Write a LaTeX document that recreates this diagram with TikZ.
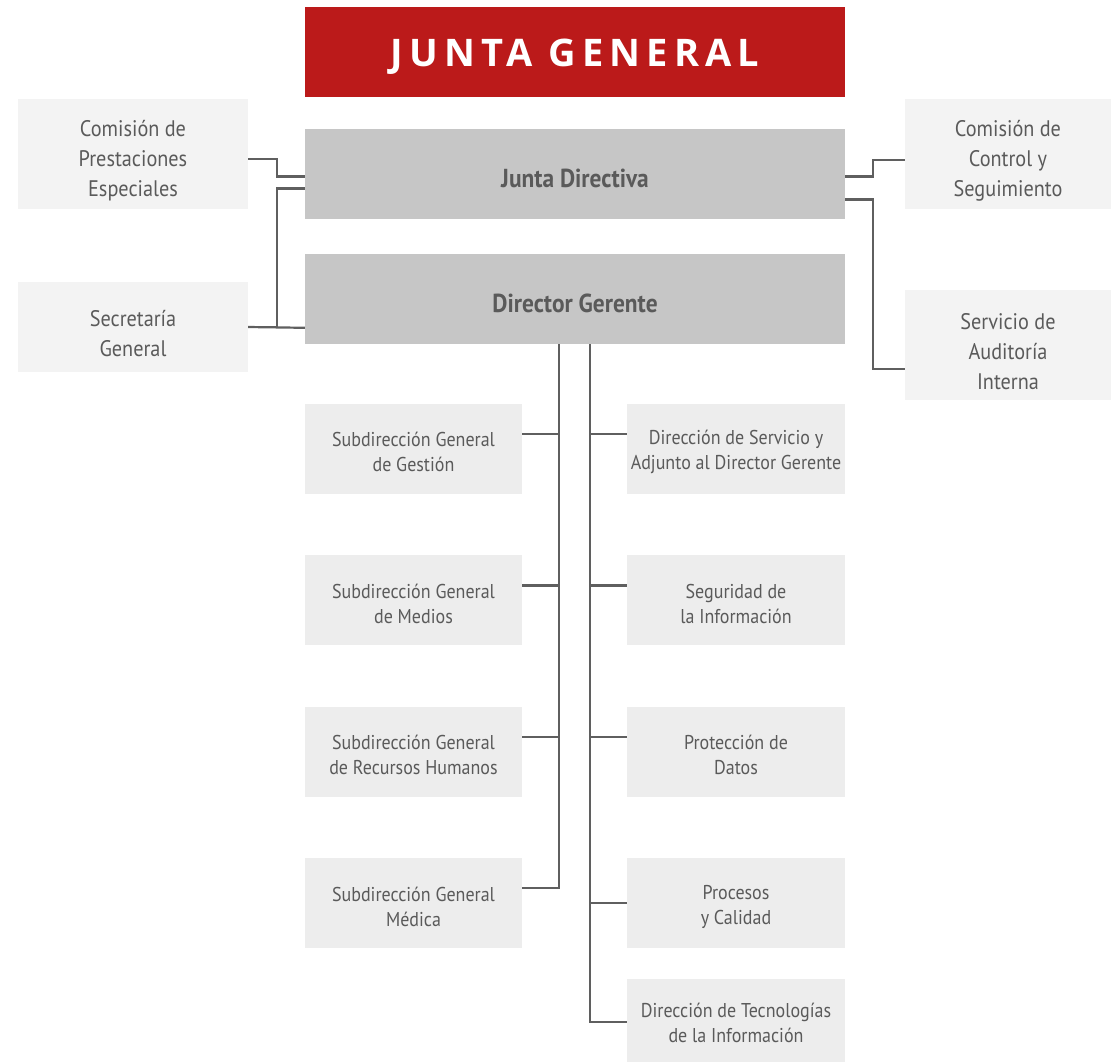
\documentclass[tikz,border=0pt]{standalone}
\usepackage{fontspec}
\setmainfont{PT Sans}[FakeStretch=0.9]
\newfontfamily\titlefont{Open Sans}[LetterSpace=16]
\usetikzlibrary{positioning}

\definecolor{jgred}{HTML}{BB1A1A}
\definecolor{maingray}{HTML}{C6C6C6}
\definecolor{sidegray}{HTML}{F3F3F3}
\definecolor{unitgray}{HTML}{EDEDED}
\definecolor{textgray}{HTML}{5A5A5A}
\definecolor{linegray}{HTML}{5F5F5F}

% struts that set the top of the first text line
\newcommand{\sidetop}{\rule{0pt}{30pt}}
\newcommand{\unittop}{\rule{0pt}{21pt}}

\begin{document}
\begin{tikzpicture}[
    x=1pt, y=-1pt,
    % Node styles
    titlebox/.style={
        rectangle, fill=jgred, inner sep=0pt,
        minimum width=540pt, minimum height=90pt,
        font=\titlefont\bfseries\fontsize{38}{40}\selectfont, text=white,
        execute at begin node={\rule{0pt}{37pt}}
    },
    mainbox/.style={
        rectangle, fill=maingray, inner sep=0pt,
        minimum width=540pt, minimum height=90pt,
        font=\bfseries\fontsize{26}{30}\selectfont, text=textgray,
        execute at begin node={\rule{0pt}{27pt}}
    },
    sidebox/.style={
        rectangle, fill=sidegray, inner sep=0pt,
        minimum height=110pt, align=center,
        font=\fontsize{22.5}{30}\selectfont, text=textgray
    },
    unitbox/.style={
        rectangle, fill=unitgray, inner sep=0pt,
        minimum height=90pt, align=center,
        font=\fontsize{20}{25}\selectfont, text=textgray
    },
    link/.style={
        draw=linegray, line width=2.2pt
    }
]
\useasboundingbox (0,0) rectangle (1111,1061);

% --- Nodes ---
\node[titlebox] (jg) at (575,52) {JUNTA GENERAL};
\node[mainbox, below=32pt of jg] (jd) {Junta Directiva};
\node[mainbox, below=34pt of jd] (dg) {Director Gerente};

% Side boxes
\node[sidebox, minimum width=230pt] (cpe) at (133,154) {\sidetop Comisión de\\Prestaciones\\Especiales};
\node[sidebox, minimum width=230pt, minimum height=90pt] (sg) at (133,327) {\sidetop Secretaría\\General};
\node[sidebox, minimum width=206pt] (ccs) at (1008,154) {\sidetop Comisión de\\Control y\\Seguimiento};
\node[sidebox, minimum width=206pt] (sai) at (1008,345) {\sidetop Servicio de\\Auditoría\\Interna};

% Left column
\node[unitbox, minimum width=217pt] (l1) at (413.5,449) {\unittop Subdirección General\\de Gestión};
\node[unitbox, minimum width=217pt, below=61pt of l1] (l2) {\unittop Subdirección General\\de Medios};
\node[unitbox, minimum width=217pt, below=61pt of l2] (l3) {\unittop Subdirección General\\de Recursos Humanos};
\node[unitbox, minimum width=217pt, below=61pt of l3] (l4) {\unittop Subdirección General\\Médica};

% Right column
\node[unitbox, minimum width=218pt] (r1) at (736,449) {\unittop Dirección de Servicio y\\Adjunto al Director Gerente};
\node[unitbox, minimum width=218pt, below=61pt of r1] (r2) {\unittop Seguridad de\\la Información};
\node[unitbox, minimum width=218pt, below=61pt of r2] (r3) {\unittop Protección de\\Datos};
\node[unitbox, minimum width=218pt, below=61pt of r3] (r4) {\unittop Procesos\\y Calidad};
\node[unitbox, minimum width=218pt, minimum height=83pt, below=30pt of r4] (r5) {\unittop Dirección de Tecnologías\\de la Información};

% --- Connectors ---
% Left of the board
\draw[link] ([yshift=-5pt]cpe.east) -- ++(29,0) |- ([yshift=-2pt]jd.west);
\draw[link] ([yshift=-14pt]jd.west) -- ++(-28,0) |- (sg.east);
\draw[link] (sg.east) -- ([yshift=-29pt]dg.west);

% Right of the board
\draw[link] ([yshift=-2pt]jd.east) -- ++(28,0) |- ([yshift=-6pt]ccs.west);
\draw[link] ([yshift=-25pt]jd.east) -- ++(28,0) |- ([yshift=-24pt]sai.west);

% Trunks under the director
\draw[link] ([xshift=-16pt]dg.south) |- ([yshift=15pt]l4.east);
\draw[link] ([xshift=15pt]dg.south) |- ([yshift=-2pt]r5.west);
\foreach \n in {l1,l2,l3}
    \draw[link] ([yshift=15pt]\n.east) -- ++(37,0);
\foreach \n in {r1,r2,r3}
    \draw[link] ([yshift=15pt]\n.west) -- ++(-37,0);
\draw[link] (r4.west) -- ++(-37,0);

\end{tikzpicture}
\end{document}
